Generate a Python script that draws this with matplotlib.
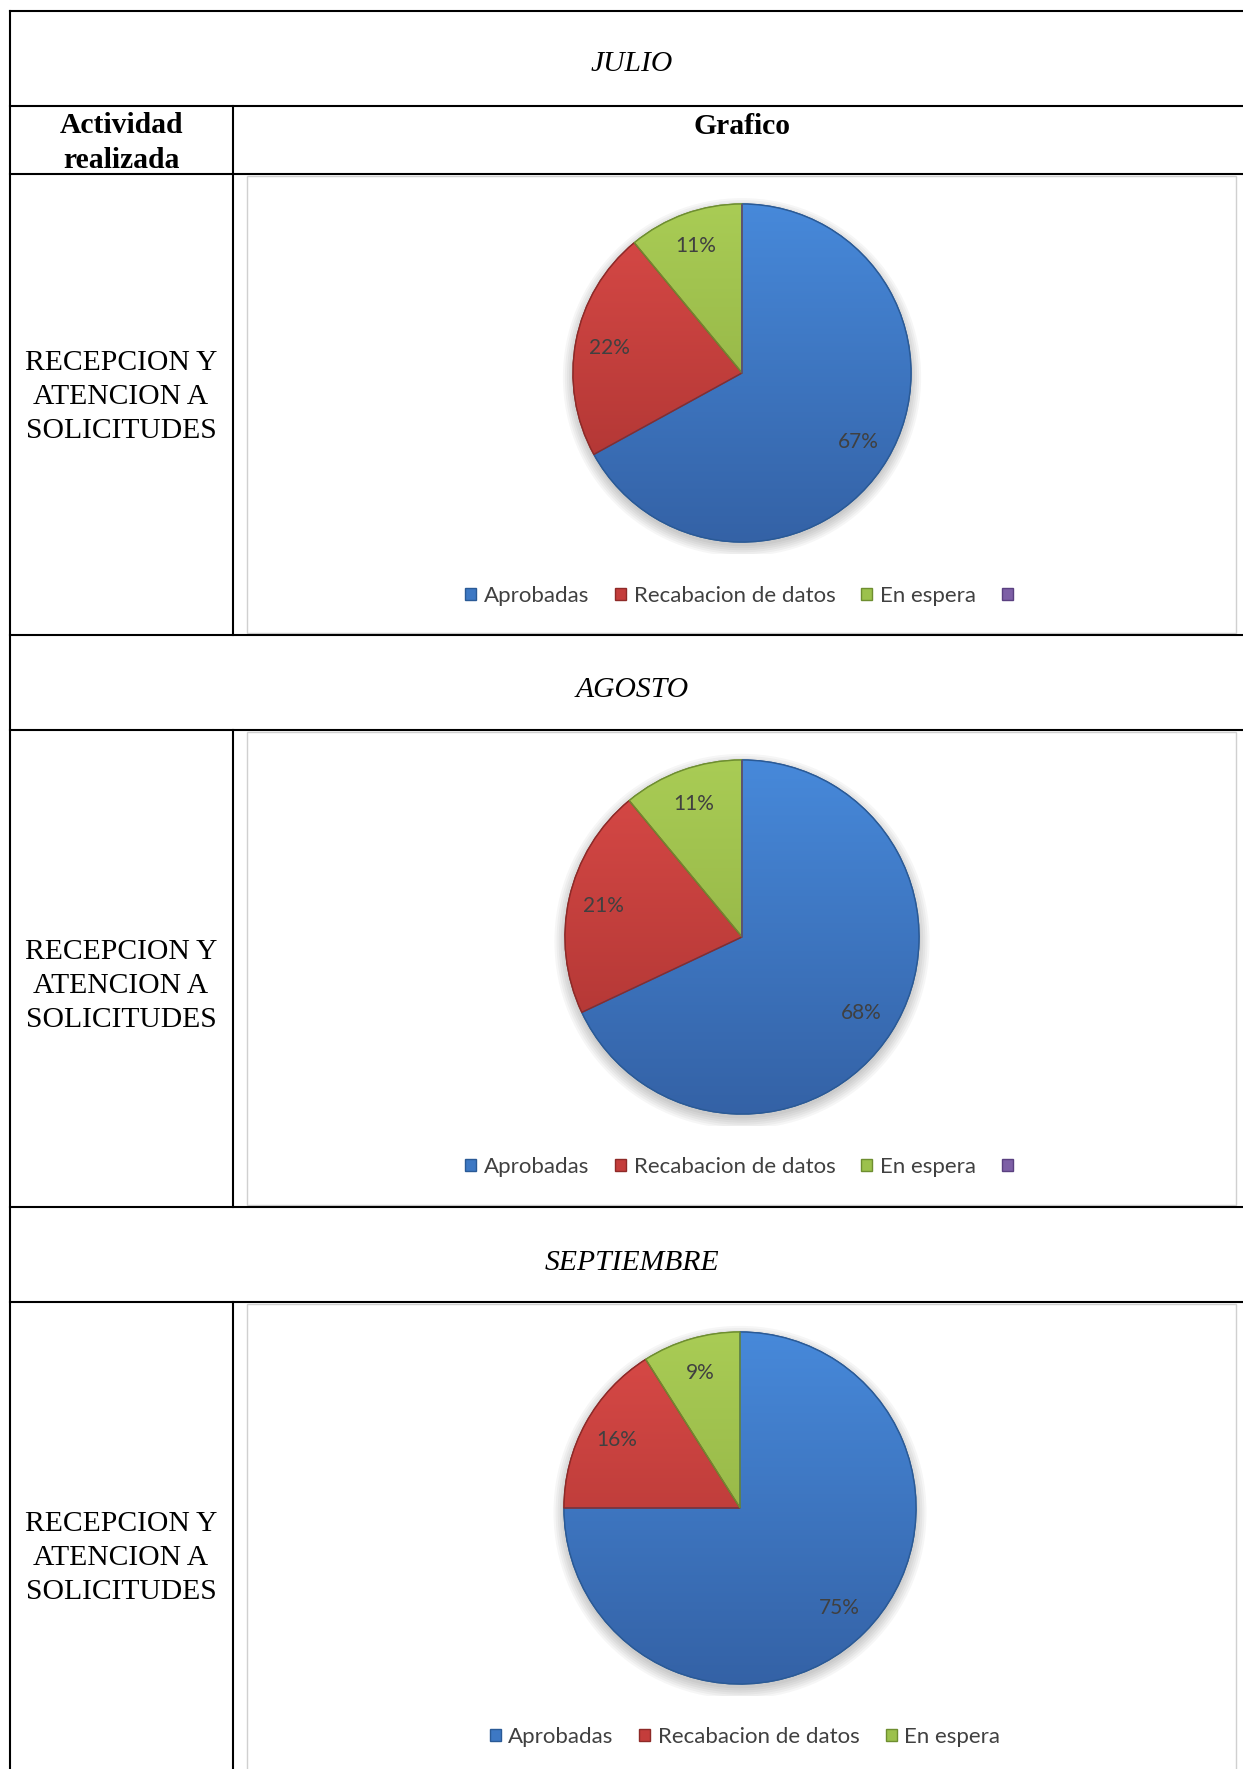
import matplotlib
matplotlib.use("Agg")
import matplotlib.pyplot as plt
import numpy as np
from matplotlib.lines import Line2D
from matplotlib.patches import Rectangle, Wedge, Circle
from matplotlib.colors import LinearSegmentedColormap

W, H = 1243, 1769

months = ["JULIO", "AGOSTO", "SEPTIEMBRE"]
activity = "RECEPCION Y\nATENCION A\nSOLICITUDES"
categories_jul = ["Aprobadas", "Recabacion de datos", "En espera", ""]
values_jul = [67, 22, 11, 0]
categories_ago = ["Aprobadas", "Recabacion de datos", "En espera", ""]
values_ago = [68, 21, 11, 0]
categories_sep = ["Aprobadas", "Recabacion de datos", "En espera"]
values_sep = [75, 16, 9]

colors = ["#3d78c4", "#c43d3b", "#9cc14c", "#7d5fa6"]
tops = ["#4789da", "#d94a47", "#a9cc55", "#8c6cb8"]
bottoms = ["#3462a6", "#a83230", "#89a83e", "#654a8c"]
edgecols = ["#2a5a96", "#8e2a28", "#6e8e30", "#5a4080"]

SERIF = ["Liberation Serif", "DejaVu Serif"]
SANS = ["Lato", "DejaVu Sans"]
TFS = 21.3

fig = plt.figure(figsize=(W / 100, H / 100), dpi=100)
fig.patch.set_facecolor("white")


def fx(x):
    return x / W


def fy(y):
    return 1 - y / H


def hline(y, x0=10, x1=W, lw=1.5, color="black"):
    fig.add_artist(Line2D([fx(x0), fx(x1)], [fy(y), fy(y)], color=color, lw=lw,
                          transform=fig.transFigure))


def vline(x, y0, y1, lw=1.5, color="black"):
    fig.add_artist(Line2D([fx(x), fx(x)], [fy(y0), fy(y1)], color=color, lw=lw,
                          transform=fig.transFigure))


def box(x0, y0, x1, y1):
    fig.add_artist(Rectangle((fx(x0), fy(y1)), fx(x1) - fx(x0), fy(y0) - fy(y1),
                             fill=False, edgecolor="#d0d0d0", lw=1.0,
                             transform=fig.transFigure))


# table lines
for y in [11, 106, 174, 635, 730, 1207, 1302]:
    hline(y)
vline(10, 11, H)
vline(233.5, 106, 635)
vline(233.5, 730, 1207)
vline(233.5, 1302, H)

# chart boxes
box(247, 176, 1236, 633)
box(247, 732, 1236, 1205)
box(247, 1304, 1236, H + 5)

# month titles
month_y = [64, 690, 1263]
for m, y in zip(months, month_y):
    fig.text(fx(632), fy(y), m, ha="center", va="center", family=SERIF,
             style="italic", fontsize=TFS)

fig.text(fx(121), fy(143), "Actividad\nrealizada", ha="center", va="center",
         family=SERIF, weight="bold", fontsize=TFS, linespacing=1.35)
fig.text(fx(742), fy(126), "Grafico", ha="center", va="center",
         family=SERIF, weight="bold", fontsize=TFS)

for yc in [397, 986, 1558]:
    fig.text(fx(121), fy(yc), activity, ha="center", va="center",
             family=SERIF, fontsize=TFS, linespacing=1.4)

grad = np.linspace(0, 1, 256).reshape(-1, 1)


def draw_pie(cx, cy, r, vals, cats, legy, legx):
    pad = 12
    ax = fig.add_axes([fx(cx - r - pad), fy(cy + r + pad), 2 * (r + pad) / W,
                       2 * (r + pad) / H])
    n = len(vals)
    wedges, texts, autotexts = ax.pie(
        vals, colors=colors[:n], startangle=90, counterclock=False,
        radius=1.0, autopct=lambda p: f"{p:.0f}%" if p > 0 else "",
        pctdistance=0.8, wedgeprops=dict(linewidth=1.0),
        textprops=dict(color="#404040", family=SANS, fontsize=15),
        frame=False)
    lim = (r + pad) / r
    # soft shadow
    for k in range(6):
        ax.add_patch(Circle((0, -0.025), 1.0 + 0.012 * k, color="black",
                            alpha=0.035, zorder=0.5, lw=0))
    for i, w in enumerate(wedges):
        w.set_edgecolor(edgecols[i])
        cmap = LinearSegmentedColormap.from_list("g", [bottoms[i], tops[i]])
        im = ax.imshow(grad, cmap=cmap, origin="lower", extent=(-1, 1, -1, 1),
                       aspect="auto", zorder=w.get_zorder() + 0.1)
        im.set_clip_path(w)
    for i, w in enumerate(wedges):
        ax.add_patch(Wedge(w.center, w.r, w.theta1, w.theta2, fill=False,
                           edgecolor=edgecols[i], lw=1.0, zorder=3))
    for t in autotexts:
        t.set_zorder(5)
    ax.set_xlim(-lim, lim)
    ax.set_ylim(-lim, lim)
    ax.set_aspect("auto")
    ax.axis("off")
    fig.legend(wedges, cats, loc="center", ncol=n, frameon=False,
               bbox_to_anchor=(fx(legx), fy(legy)), bbox_transform=fig.transFigure,
               handlelength=0.5, handleheight=0.5, handletextpad=0.35,
               columnspacing=1.15, prop=dict(family=SANS, size=16),
               labelcolor="#404040")


draw_pie(742, 373, 169, values_jul, categories_jul, 596, 743)
draw_pie(742, 937, 177, values_ago, categories_ago, 1167, 743)
draw_pie(740, 1508, 176, values_sep, categories_sep, 1737, 745)

fig.savefig("out.png", dpi=100, facecolor="white")
